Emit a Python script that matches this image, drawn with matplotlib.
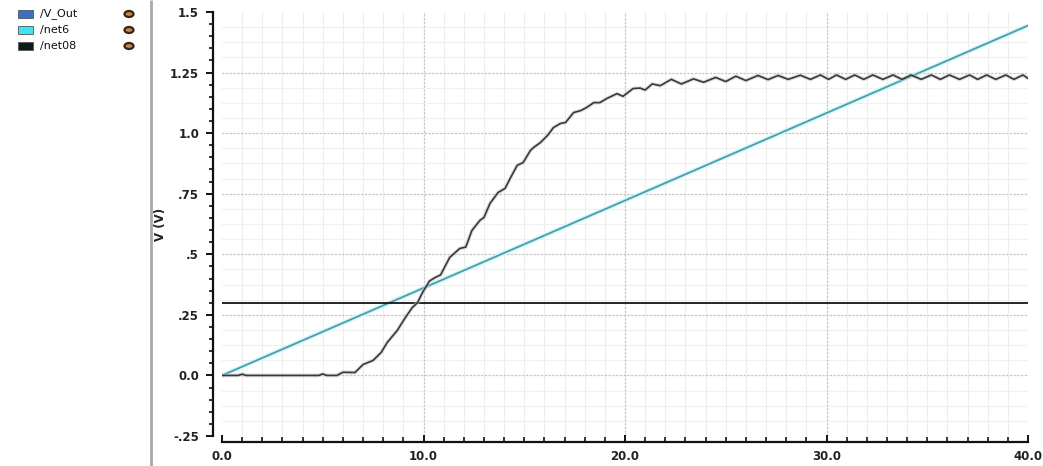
import numpy as np
import matplotlib
matplotlib.use("Agg")
import matplotlib.pyplot as plt
from matplotlib.patches import Rectangle, Ellipse

# ---------------- data ----------------
vout_t = [0.0, 0.8, 1.0, 1.2, 4.8, 5.0, 5.2, 5.7, 6.0, 6.6, 7.0, 7.5, 7.9, 8.2, 8.7,
          9.1, 9.45, 9.7, 9.95, 10.3, 10.6, 10.85, 11.3, 11.8, 12.1, 12.4, 12.8, 13.0,
          13.3, 13.7, 14.05, 14.3, 14.65, 14.95, 15.3, 15.45, 15.8, 16.15, 16.45, 16.8,
          17.05, 17.45, 17.8, 18.1, 18.45, 18.75, 19.1, 19.6, 19.9, 20.4, 20.75, 21.0,
          21.35, 21.75, 22.3, 22.8, 23.4, 23.9, 24.5, 25.0, 25.5, 26.0, 26.6, 27.1,
          27.6, 28.1, 28.7, 29.2, 29.7, 30.1, 30.5, 30.95, 31.4, 31.85, 32.3, 32.8,
          33.3, 33.75, 34.2, 34.7, 35.2, 35.65, 36.1, 36.6, 37.1, 37.5, 37.95, 38.4,
          38.9, 39.3, 39.75, 40.0]
vout_v = [0.0, 0.0, 0.005, 0.0, 0.0, 0.006, 0.0, 0.0, 0.013, 0.012, 0.045, 0.062,
          0.095, 0.136, 0.186, 0.239, 0.281, 0.300, 0.342, 0.390, 0.405, 0.415, 0.487,
          0.524, 0.530, 0.598, 0.640, 0.652, 0.710, 0.755, 0.772, 0.813, 0.867, 0.879,
          0.928, 0.940, 0.961, 0.990, 1.023, 1.040, 1.044, 1.085, 1.093, 1.106, 1.126,
          1.126, 1.143, 1.163, 1.152, 1.184, 1.186, 1.178, 1.203, 1.196, 1.222, 1.203,
          1.224, 1.210, 1.230, 1.213, 1.235, 1.217, 1.238, 1.221, 1.238, 1.222, 1.239,
          1.222, 1.240, 1.222, 1.240, 1.222, 1.240, 1.222, 1.240, 1.222, 1.240, 1.222,
          1.240, 1.222, 1.240, 1.222, 1.240, 1.222, 1.240, 1.222, 1.240, 1.222, 1.240,
          1.222, 1.240, 1.226]
net6_t = [0.0, 40.0]
net6_v = [0.0, 1.444]
net08_t = [0.0, 40.0]
net08_v = [0.3, 0.3]

legend_names = ["/V_Out", "/net6", "/net08"]
legend_colors = ["#3b6fc6", "#3fe3f2", "#0b1c16"]

xticks = [0, 10, 20, 30, 40]
xticklabels = ["0.0", "10.0", "20.0", "30.0", "40.0"]
yticks = [-0.25, 0.0, 0.25, 0.5, 0.75, 1.0, 1.25, 1.5]
yticklabels = ["-.25", "0.0", ".25", ".5", ".75", "1.0", "1.25", "1.5"]
ylabel = "V (V)"

# ---------------- figure ----------------
W, H = 1043, 466
fig = plt.figure(figsize=(W / 100, H / 100), dpi=100)
fig.patch.set_facecolor("white")

# pixel-space overlay for the side panel
bg = fig.add_axes([0, 0, 1, 1], zorder=-5)
bg.set_xlim(0, W)
bg.set_ylim(H, 0)
bg.axis("off")
bg.plot([151, 151], [0, H], color="#a8a8a8", lw=2.0, solid_capstyle="butt")

row_y = [14, 30, 46]
for name, col, y in zip(legend_names, legend_colors, row_y):
    bg.add_patch(Rectangle((18, y - 4), 15, 8, facecolor=col, edgecolor="#555555", lw=0.6))
    bg.text(40, y, name, fontsize=8, color="#111111", va="center", ha="left",
            family="DejaVu Sans")
    bg.add_patch(Ellipse((129, y), 9, 6, facecolor="#b98c5c", edgecolor="#3a2412", lw=1.6))

left_px, right_px, top_px, bot_px = 222, 1028, 12, 436
ax = fig.add_axes([left_px / W, 1 - bot_px / H, (right_px - left_px) / W, (bot_px - top_px) / H])
ax.set_xlim(0, 40)
ax.set_ylim(-0.25, 1.5)
ax.set_facecolor("white")

# grid
for xv in np.arange(1, 40, 1):
    ax.axvline(xv, color="#ededed", lw=0.8, zorder=0)
for yv in np.arange(-0.25, 1.5, 0.0625):
    ax.axhline(yv, color="#f0f0f0", lw=0.8, zorder=0)
for xv in [10, 20, 30]:
    ax.axvline(xv, color="#c4c4c4", lw=0.9, ls=(0, (1.5, 1.5)), zorder=0.5)
for yv in yticks[1:-1]:
    ax.axhline(yv, color="#c4c4c4", lw=0.9, ls=(0, (1.5, 1.5)), zorder=0.5)

# curves
ax.plot(net6_t, net6_v, color="#d2f6f9", lw=3.2, zorder=2, solid_capstyle="butt")
ax.plot(net6_t, net6_v, color="#4a9eaa", lw=1.3, zorder=3)
ax.plot(net08_t, net08_v, color="#151515", lw=1.3, zorder=3)
ax.plot(vout_t, vout_v, color="#c8c8c8", lw=2.8, zorder=4, alpha=0.6)
ax.plot(vout_t, vout_v, color="#383838", lw=1.2, zorder=5)

# spines
for s in ["top", "right"]:
    ax.spines[s].set_visible(False)
ax.spines["left"].set_position(("outward", 6.5))
ax.spines["bottom"].set_position(("outward", 4.3))
ax.spines["left"].set_linewidth(1.6)
ax.spines["bottom"].set_linewidth(1.6)
ax.spines["left"].set_color("#111111")
ax.spines["bottom"].set_color("#111111")

ax.set_xticks(xticks)
ax.set_xticklabels(xticklabels)
ax.set_xticks(np.arange(0, 41, 1), minor=True)
ax.set_yticks(yticks)
ax.set_yticklabels(yticklabels)
ax.set_yticks(np.arange(-0.25, 1.5001, 0.05), minor=True)

ax.tick_params(axis="x", which="major", direction="in", length=5, width=1.4,
               pad=6, labelsize=8.5, colors="#111111")
ax.tick_params(axis="x", which="minor", direction="in", length=3.5, width=1.2, colors="#111111")
ax.tick_params(axis="y", which="major", direction="out", length=5, width=1.4,
               pad=5, labelsize=8.5, colors="#111111")
ax.tick_params(axis="y", which="minor", direction="out", length=3, width=1.2, colors="#111111")
for lab in ax.get_xticklabels() + ax.get_yticklabels():
    lab.set_fontweight("bold")
    lab.set_color("#222222")

ax.set_ylabel(ylabel, fontsize=8.5, fontweight="bold", color="#222222", labelpad=2)

fig.savefig("out.png", dpi=100, facecolor="white")
